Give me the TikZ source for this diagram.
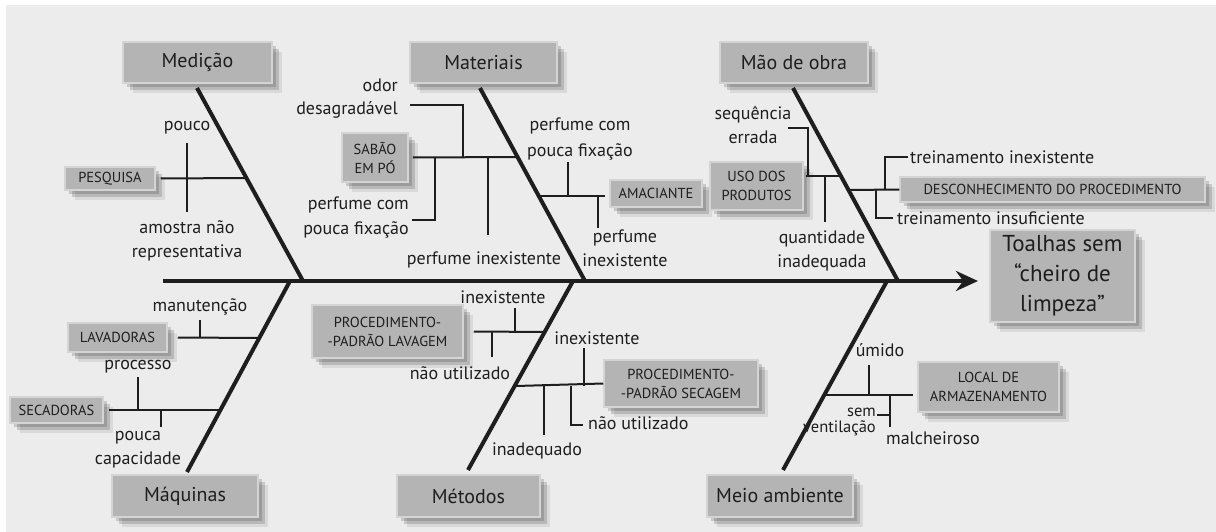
\documentclass[tikz,border=0pt]{standalone}
\usepackage{fontspec}
\setmainfont{PT Sans}
\usetikzlibrary{shadows,arrows.meta}
\definecolor{bg}{HTML}{ECECEC}
\definecolor{boxfill}{HTML}{B4B4B4}
\definecolor{boxedge}{HTML}{D4D4D4}
\definecolor{ink}{HTML}{1E1E1E}
\begin{document}
\begin{tikzpicture}[x=1pt,y=-1pt,
  catbox/.style={draw=boxedge, line width=1.5pt, fill=boxfill, text=ink, inner sep=0pt,
     font=\fontsize{20}{24}\selectfont, align=center,
     drop shadow={shadow xshift=4pt, shadow yshift=-4pt, fill=black, opacity=0.15},
     drop shadow={shadow xshift=7pt, shadow yshift=-7pt, fill=black, opacity=0.15},
     drop shadow={shadow xshift=10pt, shadow yshift=-10pt, fill=black, opacity=0.08}},
  subbox/.style={catbox, font=\fontsize{14.5}{19}\selectfont},
  lbl/.style={text=ink, inner sep=0pt, align=center, font=\fontsize{18}{24}\selectfont},
  bone/.style={draw=ink, line width=4pt},
  twig/.style={draw=ink, line width=2pt}]
\fill[white] (0,0) rectangle (1216,532);
\fill[bg] (6,5) rectangle (1216,532);
\useasboundingbox (0,0) rectangle (1216,532);

% category boxes
\node[catbox, minimum width=149pt, minimum height=41pt] (med) at (197.5,62.5) {Medição};
\node[catbox, minimum width=147pt, minimum height=41pt] (mat) at (483.5,62.5) {Materiais};
\node[catbox, minimum width=148pt, minimum height=41pt] (mao) at (794,62.5) {Mão de obra};
\node[catbox, minimum width=146pt, minimum height=42pt] (maq) at (185,496) {Máquinas};
\node[catbox, minimum width=143pt, minimum height=42pt] (met) at (468.5,496) {Métodos};
\node[catbox, minimum width=146pt, minimum height=42pt] (meio) at (780,496) {Meio ambiente};
\node[catbox, minimum width=145pt, minimum height=92pt, font=\fontsize{23}{30}\selectfont] (eff) at (1062.5,276) {Toalhas sem\\“cheiro de\\limpeza”};

% sub-cause boxes
\node[subbox, minimum width=90pt, minimum height=23pt] (pesq) at (110,178.5) {PESQUISA};
\node[subbox, minimum width=66pt, minimum height=49pt] (sabao) at (375,157.5) {SABÃO\\EM PÓ};
\node[subbox, minimum width=92pt, minimum height=27pt] (amac) at (656,193.5) {AMACIANTE};
\node[subbox, minimum width=93pt, minimum height=48pt] (uso) at (756.5,186) {USO DOS\\PRODUTOS};
\node[subbox, minimum width=305pt, minimum height=25pt] (desc) at (1052.5,189.5) {DESCONHECIMENTO DO PROCEDIMENTO};
\node[subbox, minimum width=99pt, minimum height=29pt] (lav) at (117.5,337.5) {LAVADORAS};
\node[subbox, minimum width=93pt, minimum height=26pt] (sec) at (56.5,410) {SECADORAS};
\node[subbox, minimum width=151pt, minimum height=53pt] (pplav) at (387.5,331.5) {PROCEDIMENTO-\\-PADRÃO LAVAGEM};
\node[subbox, minimum width=154pt, minimum height=47pt] (ppsec) at (681,383.5) {PROCEDIMENTO-\\-PADRÃO SECAGEM};
\node[subbox, minimum width=141pt, minimum height=50pt] (local) at (988.5,387) {LOCAL DE\\ARMAZENAMENTO};

% spine and bones
\coordinate (tail) at (163,281);
\coordinate (head) at (978,281);
\draw[bone, -{Stealth[length=22pt,width=20pt]}] (tail) -- (head);
\coordinate (medtop) at (197,88);  \coordinate (medend) at (303,281);
\coordinate (mattop) at (480,88);  \coordinate (matend) at (585,281);
\coordinate (maotop) at (793,88);  \coordinate (maoend) at (898,281);
\coordinate (maqbot) at (187,472); \coordinate (maqend) at (290,281);
\coordinate (metbot) at (468,470); \coordinate (metend) at (573,281);
\coordinate (meiobot) at (783,470);\coordinate (meioend) at (887,281);
\draw[bone] (medtop) -- (medend);
\draw[bone] (mattop) -- (matend);
\draw[bone] (maotop) -- (maoend);
\draw[bone] (maqend) -- (maqbot);
\draw[bone] (metend) -- (metbot);
\draw[bone] (meioend) -- (meiobot);

% labels
\node[lbl] (pouco) at (187,128) {pouco};
\node[lbl] (amostra) at (187,240.5) {amostra não\\representativa};
\node[lbl, align=right, anchor=east, font=\fontsize{18}{23}\selectfont] (odor) at (398,99) {odor\\desagradável};
\node[lbl, align=right, anchor=east, font=\fontsize{18}{25}\selectfont] (pfc1) at (409,217.5) {perfume com\\pouca fixação};
\node[lbl] (pinex1) at (484,260) {perfume inexistente};
\node[lbl, font=\fontsize{18}{26}\selectfont] (pfc2) at (580,139) {perfume com\\pouca fixação};
\node[lbl] (pinex2) at (625,248) {perfume\\inexistente};
\node[lbl] (seq) at (753,125) {sequência\\errada};
\node[lbl] (quant) at (822,250.5) {quantidade\\inadequada};
\node[lbl, anchor=west] (tinex) at (910,157) {treinamento inexistente};
\node[lbl, anchor=west] (tinsuf) at (897,218) {treinamento insuficiente};
\node[lbl] (manut) at (200,307) {manutenção};
\node[lbl] (proc) at (138,367) {processo};
\node[lbl] (pcap) at (138,449.5) {pouca\\capacidade};
\node[lbl] (inex1) at (503,297) {inexistente};
\node[lbl] (nutil1) at (460,373) {não utilizado};
\node[lbl] (inex2) at (597,338) {inexistente};
\node[lbl, anchor=west] (nutil2) at (588,423) {não utilizado};
\node[lbl] (inadeq) at (537,451) {inadequado};
\node[lbl] (umido) at (880,350) {úmido};
\node[lbl] (malch) at (933,438) {malcheiroso};
\node[lbl, align=right, anchor=east, font=\fontsize{16.5}{16}\selectfont] (semv) at (876,422) {sem\\ventilação};

% Medição twigs
\draw[twig] (pesq.east) ++(5,0) -- (246,178);
\draw[twig] (187,143) -- (187,212);
% Materiais twigs
\draw[twig] (sabao.east) ++(4,0) -- (518,157);
\draw[twig] (odor.east) ++(12,6) -| (463,157);
\draw[twig] (412,220) -| (435,157);
\draw[twig] (488,157) -- (488,235);
\draw[twig] (540,196) -- (605,196);
\draw[twig] (568,196) -- (568,162);
\draw[twig] (598,196) -- (598,228);
% Mão de obra twigs
\draw[twig] (uso.east) ++(2,-10) -- (841,176);
\draw[twig] (788,128) -| (808,176);
\draw[twig] (825,176) -- (825,222);
\draw[twig] (849,190) -- (desc.west);
\draw[twig] (885,190) |- (908,157);
\draw[twig] (876,190) |- (893,218);
% Máquinas twigs
\draw[twig] (lav.east) ++(10,0) -- (260,338);
\draw[twig] (200,338) -- (200,320);
\draw[twig] (sec.east) ++(5,0) -- (220,410);
\draw[twig] (138,410) -- (138,377);
\draw[twig] (161,410) -- (161,427);
% Métodos twigs
\draw[twig] (pplav.east) ++(10,0) -- (545,332);
\draw[twig] (515,332) -- (515,308);
\draw[twig] (492,332) -- (492,357);
\draw[twig] (516,386) -- (ppsec.west);
\draw[twig] (584,386) -- (584,348);
\draw[twig] (571,386) |- (583,425);
\draw[twig] (544,386) -- (544,435);
% Meio ambiente twigs
\draw[twig] (826,395) -- (913,395);
\draw[twig] (869,395) -- (869,365);
\draw[twig] (890,395) -- (890,427);
\draw[twig] (877,415) -- (890,415);
\end{tikzpicture}
\end{document}
